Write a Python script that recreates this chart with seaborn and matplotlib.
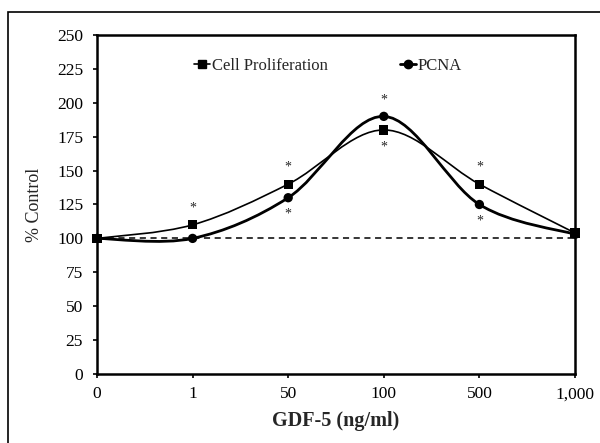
"""
GDF-5 dose response: cell proliferation and PCNA (% of control)
"""
import matplotlib
matplotlib.use("Agg")
import matplotlib.pyplot as plt
from matplotlib.lines import Line2D
from matplotlib.path import Path
from matplotlib.patches import PathPatch, Rectangle
import numpy as np
import pandas as pd
import seaborn as sns

doses = ["0", "1", "50", "100", "500", "1,000"]
cell_prolif = [100, 110, 140, 180, 140, 104]
pcna = [100, 100, 130, 190, 125, 103]
# significance marks: +1 above the point, -1 below, 0 none
cell_stars = [0, 1, 1, -1, 1, 0]
pcna_stars = [0, 0, -1, 1, -1, 0]
y_ticks = list(range(0, 251, 25))


def smooth_path(xs, ys):
    """Excel style smoothed line as cubic Bezier segments."""
    pts = np.column_stack([xs, ys]).astype(float)
    n = len(pts)
    verts = [pts[0]]
    codes = [Path.MOVETO]
    for i in range(n - 1):
        p0 = pts[max(i - 1, 0)]
        p1 = pts[i]
        p2 = pts[i + 1]
        p3 = pts[min(i + 2, n - 1)]
        c1 = p1 + (p2 - p0) / 6.0
        c2 = p2 - (p3 - p1) / 6.0
        verts += [c1, c2, p2]
        codes += [Path.CURVE4] * 3
    return Path(verts, codes)


sns.set_style("ticks")
plt.rcParams["font.family"] = ["Liberation Serif", "DejaVu Serif"]

fig = plt.figure(figsize=(6, 4.43), dpi=100)
ax = fig.add_axes([97 / 600, 1 - 374 / 443, 478 / 600, 339 / 443])

# outer frame of the figure
fig.patches.append(Rectangle((8 / 600, -0.1), 1.2, 1 - 12 / 443 + 0.1,
                             transform=fig.transFigure, fill=False,
                             edgecolor="black", linewidth=1.2))

x = np.arange(len(doses))
df = pd.DataFrame({
    "x": np.concatenate([x, x]),
    "value": cell_prolif + pcna,
    "series": ["Cell Proliferation"] * len(x) + ["PCNA"] * len(x),
})

ax.axhline(100, color="black", linestyle=(0, (4, 3)), linewidth=1.1, zorder=1)

ax.add_patch(PathPatch(smooth_path(x, cell_prolif), fill=False,
                       edgecolor="black", linewidth=1.2, zorder=2))
ax.add_patch(PathPatch(smooth_path(x, pcna), fill=False,
                       edgecolor="black", linewidth=2.0, zorder=2))

sns.scatterplot(data=df, x="x", y="value", style="series",
                markers={"Cell Proliferation": "s", "PCNA": "o"},
                color="black", s=45, edgecolor="black", linewidth=0,
                legend=False, ax=ax, zorder=3, clip_on=False)

for xi, yi, st in zip(x, cell_prolif, cell_stars):
    if st:
        ax.annotate("*", (xi, yi), xytext=(0, 12 * st), textcoords="offset points",
                    ha="center", va="center", fontsize=10)
for xi, yi, st in zip(x, pcna, pcna_stars):
    if st:
        ax.annotate("*", (xi, yi), xytext=(0, 12 * st), textcoords="offset points",
                    ha="center", va="center", fontsize=10)

ax.set_xlim(0, len(doses) - 1)
ax.set_ylim(0, 250)
ax.set_xticks(x)
ax.set_xticklabels(doses)
ax.set_yticks(y_ticks)
for s in ax.spines.values():
    s.set_linewidth(1.8)
    s.set_color("black")
ax.tick_params(direction="out", length=3, width=1.2, labelsize=12.5,
               colors="black")
ax.tick_params(axis="y", pad=7)
ax.tick_params(axis="x", pad=6)

ax.set_xlabel("GDF-5 (ng/ml)", fontsize=14.5, fontweight="bold", labelpad=6)
ax.set_ylabel("% Control", fontsize=13, labelpad=10)

handles = [
    Line2D([], [], color="black", marker="s", markersize=6, linewidth=1.2),
    Line2D([], [], color="black", marker="o", markersize=6, linewidth=2.0),
]
ax.legend(handles, ["Cell Proliferation", "PCNA"], ncol=2, frameon=False,
          loc="center", bbox_to_anchor=(0.483, 0.91), handlelength=1.0,
          handletextpad=0.1, columnspacing=4.3, fontsize=12)

fig.savefig("out.png", dpi=100)
